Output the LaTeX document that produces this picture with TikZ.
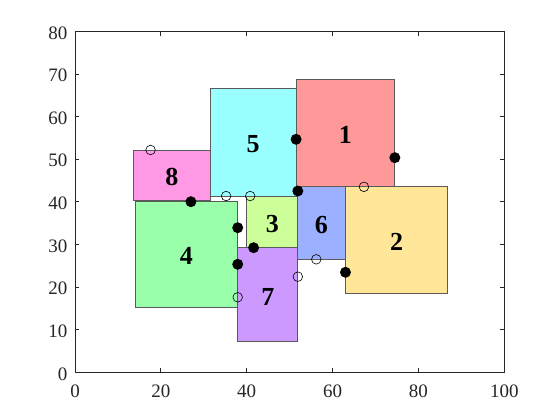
\documentclass[tikz,border=0pt]{standalone}
\usepackage{fontspec}
\setmainfont{Liberation Serif}
\definecolor{axc}{HTML}{262626}
\definecolor{edgec}{HTML}{5A5A5A}
\definecolor{c1}{HTML}{FF9999}
\definecolor{c2}{HTML}{FFE699}
\definecolor{c3}{HTML}{CCFF99}
\definecolor{c4}{HTML}{99FFAA}
\definecolor{c5}{HTML}{99FFFF}
\definecolor{c6}{HTML}{9BB0FF}
\definecolor{c7}{HTML}{CC99FF}
\definecolor{c8}{HTML}{FF99E6}
\begin{document}
\begin{tikzpicture}[x=4.293pt,y=4.2625pt,
  box/.style={draw=edgec,line width=0.9pt},
  lbl/.style={font=\fontsize{26}{30}\selectfont\bfseries,inner sep=0pt,yshift=-2pt},
  fdot/.style={fill=black},
  odot/.style={draw=black,line width=0.6pt},
  ticklbl/.style={font=\fontsize{19}{22}\selectfont,text=axc,inner sep=0pt}]
\useasboundingbox (-17.47,-11.19) rectangle (112.97,87.34);
% rectangles
\filldraw[box,fill=c1] (51.5,43.5) rectangle (74.5,68.7);
\filldraw[box,fill=c2] (63,18.4) rectangle (86.8,43.5);
\filldraw[box,fill=c3] (40,29.2) rectangle (51.9,41.4);
\filldraw[box,fill=c4] (14,15.3) rectangle (37.9,40.1);
\filldraw[box,fill=c5] (31.5,41.35) rectangle (51.5,66.5);
\filldraw[box,fill=c6] (51.8,26.5) rectangle (63,43.5);
\filldraw[box,fill=c7] (37.9,7.2) rectangle (51.9,29.2);
\filldraw[box,fill=c8] (13.6,40.2) rectangle (31.5,52.15);
% labels
\node[lbl] (l1) at (63,56.1) {1};
\node[lbl] (l2) at (74.9,30.95) {2};
\node[lbl] (l3) at (45.95,35.3) {3};
\node[lbl] (l4) at (25.95,27.7) {4};
\node[lbl] (l5) at (41.5,53.9) {5};
\node[lbl] (l6) at (57.4,35) {6};
\node[lbl] (l7) at (44.9,18.2) {7};
\node[lbl] (l8) at (22.55,46.2) {8};
% filled points
\foreach \p in {(51.5,54.66),(74.5,50.35),(51.9,42.53),(27.0,40.02),(37.9,33.92),(41.6,29.23),(37.9,25.34),(63,23.46)}
  \fill[fdot] \p circle[radius=5.5pt];
% open points
\foreach \p in {(17.6,52.15),(35.2,41.35),(40.8,41.35),(67.3,43.5),(56.2,26.5),(51.9,22.43),(37.9,17.6)}
  \draw[odot] \p circle[radius=4.8pt];
% axes box
\draw[axc,line width=0.8pt] (0,0) rectangle (100,80);
\foreach \x in {20,40,60,80} {
  \draw[axc,line width=0.8pt] (\x,0) -- ++(0,4.3pt);
  \draw[axc,line width=0.8pt] (\x,80) -- ++(0,-4.3pt);
}
\foreach \y in {10,20,...,70} {
  \draw[axc,line width=0.8pt] (0,\y) -- ++(4.3pt,0);
  \draw[axc,line width=0.8pt] (100,\y) -- ++(-4.3pt,0);
}
\foreach \x in {0,20,40,60,80,100}
  \node[ticklbl,anchor=north] (xt\x) at ([yshift=-12.5pt]\x,0) {\x};
\foreach \y in {0,10,...,80}
  \node[ticklbl,anchor=east] (yt\y) at ([xshift=-7.5pt,yshift=-1.5pt]0,\y) {\y};
\end{tikzpicture}
\end{document}
